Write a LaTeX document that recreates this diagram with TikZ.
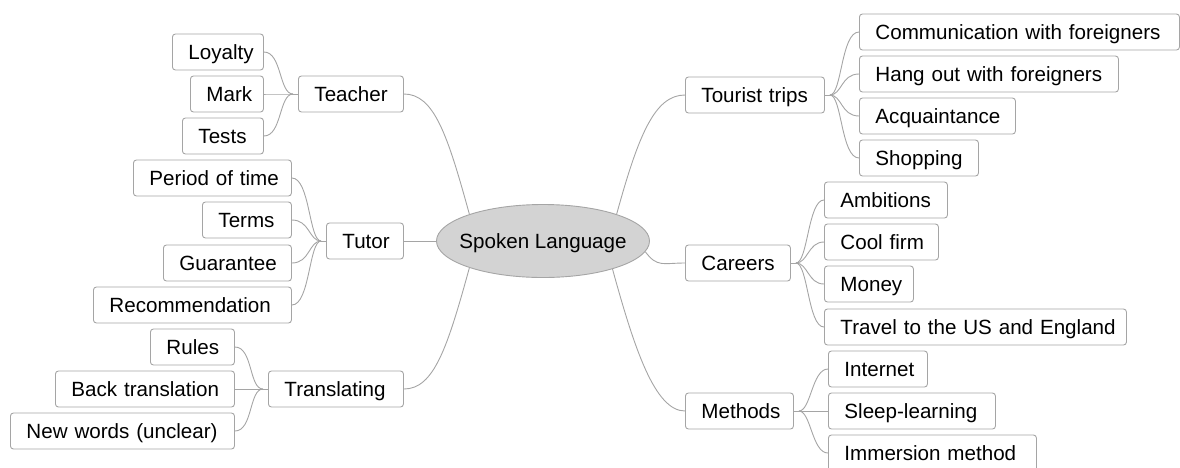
\documentclass[tikz,border=0pt]{standalone}
\usepackage{fontspec}
\setmainfont{Liberation Sans}
\usetikzlibrary{shapes.geometric}
\definecolor{boxline}{RGB}{165,165,165}
\definecolor{conn}{RGB}{165,165,165}
\definecolor{ellfill}{RGB}{211,211,211}
\tikzset{
  topic/.style={draw=boxline, line width=0.9pt, rounded corners=3pt, fill=white,
    anchor=west, minimum height=36pt, inner ysep=0pt, inner xsep=0pt,
    align=left, text height=15pt, text depth=0pt,
    font=\fontsize{20.6}{24}\selectfont},
  central/.style={draw=boxline, line width=0.9pt, ellipse, fill=ellfill,
    minimum width=213pt, minimum height=73pt, inner sep=0pt},
  centraltext/.style={inner sep=0pt, text height=15pt, text depth=0pt,
    font=\fontsize{20.6}{24}\selectfont},
  link/.style={draw=conn, line width=0.9pt}
}
\newcommand{\tbox}[5]{% name, left x, right x, center y, text
  \pgfmathsetmacro{\tw}{#3-#2}
  \node[topic, text width=\tw pt] (#1) at (#2,#4) {\hspace*{16pt}\mbox{#5}};
}
\begin{document}
\begin{tikzpicture}[x=1pt,y=-1pt]
\clip (0,0) rectangle (1180,467);
\useasboundingbox (0,0) rectangle (1180,467);
% central
\node[central] (sl) at (543,241) {};
\node[centraltext] (sltext) at (sl.center) {Spoken Language};
% left branches
\tbox{teacher}{298}{403}{94}{Teacher}
\tbox{loyalty}{172}{263}{52}{Loyalty}
\tbox{mark}{190}{263}{94}{Mark}
\tbox{tests}{182}{263}{136}{Tests}
\tbox{tutor}{326}{403}{241}{Tutor}
\tbox{period}{133}{291}{178}{Period of time}
\tbox{terms}{202}{291}{220}{Terms}
\tbox{guarantee}{163}{291}{263}{Guarantee}
\tbox{recom}{93}{291}{305}{Recommendation}
\tbox{translating}{268}{403}{389}{Translating}
\tbox{rules}{150}{234}{347}{Rules}
\tbox{back}{55}{234}{389}{Back translation}
\tbox{newwords}{10}{234}{431}{New words (unclear)}
% right branches
\tbox{tourist}{685}{824}{95}{Tourist trips}
\tbox{comm}{859}{1179}{32}{Communication with foreigners}
\tbox{hang}{859}{1118}{74}{Hang out with foreigners}
\tbox{acq}{859}{1015}{116}{Acquaintance}
\tbox{shop}{859}{978}{158}{Shopping}
\tbox{careers}{685}{790}{263}{Careers}
\tbox{amb}{824}{947}{200}{Ambitions}
\tbox{cool}{824}{938}{242}{Cool firm}
\tbox{money}{824}{913}{284}{Money}
\tbox{travel}{824}{1126}{327}{Travel to the US and England}
\tbox{methods}{685}{793}{411}{Methods}
\tbox{internet}{828}{927}{369}{Internet}
\tbox{sleep}{828}{995}{411}{Sleep-learning}
\tbox{immersion}{828}{1036}{453}{Immersion method}
% junction points
\coordinate (jteacher) at ([xshift=-5pt]teacher.west);
\coordinate (jtutor) at ([xshift=-5pt]tutor.west);
\coordinate (jtrans) at ([xshift=-5pt]translating.west);
\coordinate (jtourist) at ([xshift=5pt]tourist.east);
\coordinate (jcareers) at ([xshift=5pt]careers.east);
\coordinate (jmethods) at ([xshift=5pt]methods.east);
% central connectors
\draw[link] (teacher.east) .. controls +(30,0) and +(-22,-80) .. (sl.160);
\draw[link] (tutor.east) -- (sl.west);
\draw[link] (translating.east) .. controls +(30,0) and +(-22,80) .. (sl.200);
\draw[link] (sl.20) .. controls +(22,-80) and +(-30,0) .. (tourist.west);
\draw[link] (sl.354) .. controls +(12,16) and +(-22,0) .. (careers.west);
\draw[link] (sl.338) .. controls +(22,80) and +(-30,0) .. (methods.west);
% left subconnectors
\foreach \c in {loyalty,mark,tests}
  \draw[link] (\c.east) .. controls +(18,0) and +(-14,0) .. (jteacher);
\draw[link] (jteacher) -- (teacher.west);
\foreach \c in {period,terms,guarantee,recom}
  \draw[link] (\c.east) .. controls +(18,0) and +(-12,0) .. (jtutor);
\draw[link] (jtutor) -- (tutor.west);
\foreach \c in {rules,back,newwords}
  \draw[link] (\c.east) .. controls +(18,0) and +(-14,0) .. (jtrans);
\draw[link] (jtrans) -- (translating.west);
% right subconnectors
\draw[link] (tourist.east) -- (jtourist);
\foreach \c in {comm,hang,acq,shop}
  \draw[link] (jtourist) .. controls +(12,0) and +(-18,0) .. (\c.west);
\draw[link] (careers.east) -- (jcareers);
\foreach \c in {amb,cool,money,travel}
  \draw[link] (jcareers) .. controls +(12,0) and +(-16,0) .. (\c.west);
\draw[link] (methods.east) -- (jmethods);
\foreach \c in {internet,sleep,immersion}
  \draw[link] (jmethods) .. controls +(12,0) and +(-16,0) .. (\c.west);
\end{tikzpicture}
\end{document}
